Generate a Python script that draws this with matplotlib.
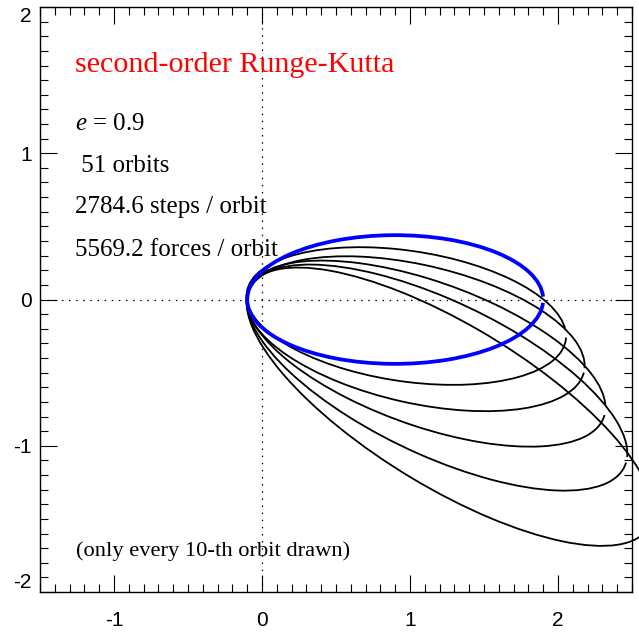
import numpy as np
import matplotlib
matplotlib.use("Agg")
import matplotlib.pyplot as plt
from matplotlib.patches import Arc
from matplotlib.ticker import MultipleLocator

plt.rcParams['mathtext.fontset'] = 'custom'
plt.rcParams['mathtext.rm'] = 'Liberation Serif'
plt.rcParams['mathtext.it'] = 'Liberation Serif:italic'

# every 10th orbit, read off the picture as ellipses:
# centre, semi-major / semi-minor axis, tilt of the major axis (deg),
# and the small gap left open near the apocentre (parametric angle, deg)
orbit_number = [0, 10, 20, 30, 40, 50]
centre_x = [0.900, 0.975, 1.038, 1.108, 1.183, 1.269]
centre_y = [0.000, -0.113, -0.234, -0.370, -0.534, -0.733]
semi_major = [1.000, 1.090, 1.167, 1.278, 1.405, 1.577]
semi_minor = [0.440, 0.446, 0.472, 0.492, 0.525, 0.550]
tilt = [0.0, -8.7, -13.0, -20.0, -25.8, -31.7]
gap_from = [-3.0, 2.3, -0.4, 2.1, 3.6, 0.0]
gap_to = [2.5, 8.8, 3.3, 9.5, 7.7, 5.0]
orbit_color = ['#0000ff', 'k', 'k', 'k', 'k', 'k']
orbit_lw = [2.7, 1.3, 1.3, 1.3, 1.3, 1.3]

info_lines = [r'$e$ = 0.9', ' 51 orbits', '2784.6 steps / orbit', '5569.2 forces / orbit']
info_y = [1.157, 0.87, 0.589, 0.30]


def polar_angle(t_deg, a, b):
    # Arc wants polar angles, the gap is given as parametric angle
    t = np.radians(t_deg)
    return np.degrees(np.arctan2(b * np.sin(t), a * np.cos(t)))


fig = plt.figure(figsize=(6.39, 6.32), dpi=100)
ax = fig.add_axes([40/639, 40/632, 592/639, 585/632])
ax.set_xlim(-1.5, 2.5)
ax.set_ylim(-2, 2)

ax.axhline(0, color='k', lw=0.9, ls=(0, (1.2, 4.5)), zorder=1)
ax.axvline(0, color='k', lw=0.9, ls=(0, (1.2, 4.5)), zorder=1)

for k in range(len(orbit_number)):
    a = semi_major[k]
    b = semi_minor[k]
    th1 = polar_angle(gap_to[k], a, b)
    th2 = 360.0 + polar_angle(gap_from[k], a, b)
    arc = Arc((centre_x[k], centre_y[k]), 2 * a, 2 * b, angle=tilt[k],
              theta1=th1, theta2=th2, color=orbit_color[k],
              lw=orbit_lw[k], clip_on=False, zorder=3 if k == 0 else 2)
    ax.add_patch(arc)

serif = ['Liberation Serif', 'DejaVu Serif']
ax.text(-1.264, 1.555, 'second-order Runge-Kutta', color='red', fontsize=21.6,
        family=serif)
for s, y in zip(info_lines, info_y):
    ax.text(-1.264, y, s, fontsize=18, family=serif)
ax.text(-1.26, -1.753, '(only every 10-th orbit drawn)', fontsize=16.2, family=serif)

ax.set_xticks([-1, 0, 1, 2])
ax.set_xticklabels(['-1', '0', '1', '2'])
ax.set_yticks([-2, -1, 0, 1, 2])
ax.set_yticklabels(['-2', '-1', '0', '1', '2'])
ax.xaxis.set_minor_locator(MultipleLocator(0.1))
ax.yaxis.set_minor_locator(MultipleLocator(0.1))
ax.tick_params(which='both', direction='in', top=True, right=True, width=0.8,
               labelsize=15)
ax.tick_params(which='major', length=12.5)
ax.tick_params(which='minor', length=6)
ax.tick_params(axis='x', pad=14)
ax.tick_params(axis='y', pad=6)
for lab in ax.get_xticklabels() + ax.get_yticklabels():
    lab.set_family(['Liberation Sans', 'DejaVu Sans'])
ylabs = ax.get_yticklabels()
ylabs[-1].set_va('top')
ylabs[0].set_va('bottom')
for sp in ax.spines.values():
    sp.set_linewidth(1.0)

fig.savefig('out.png', dpi=100)
